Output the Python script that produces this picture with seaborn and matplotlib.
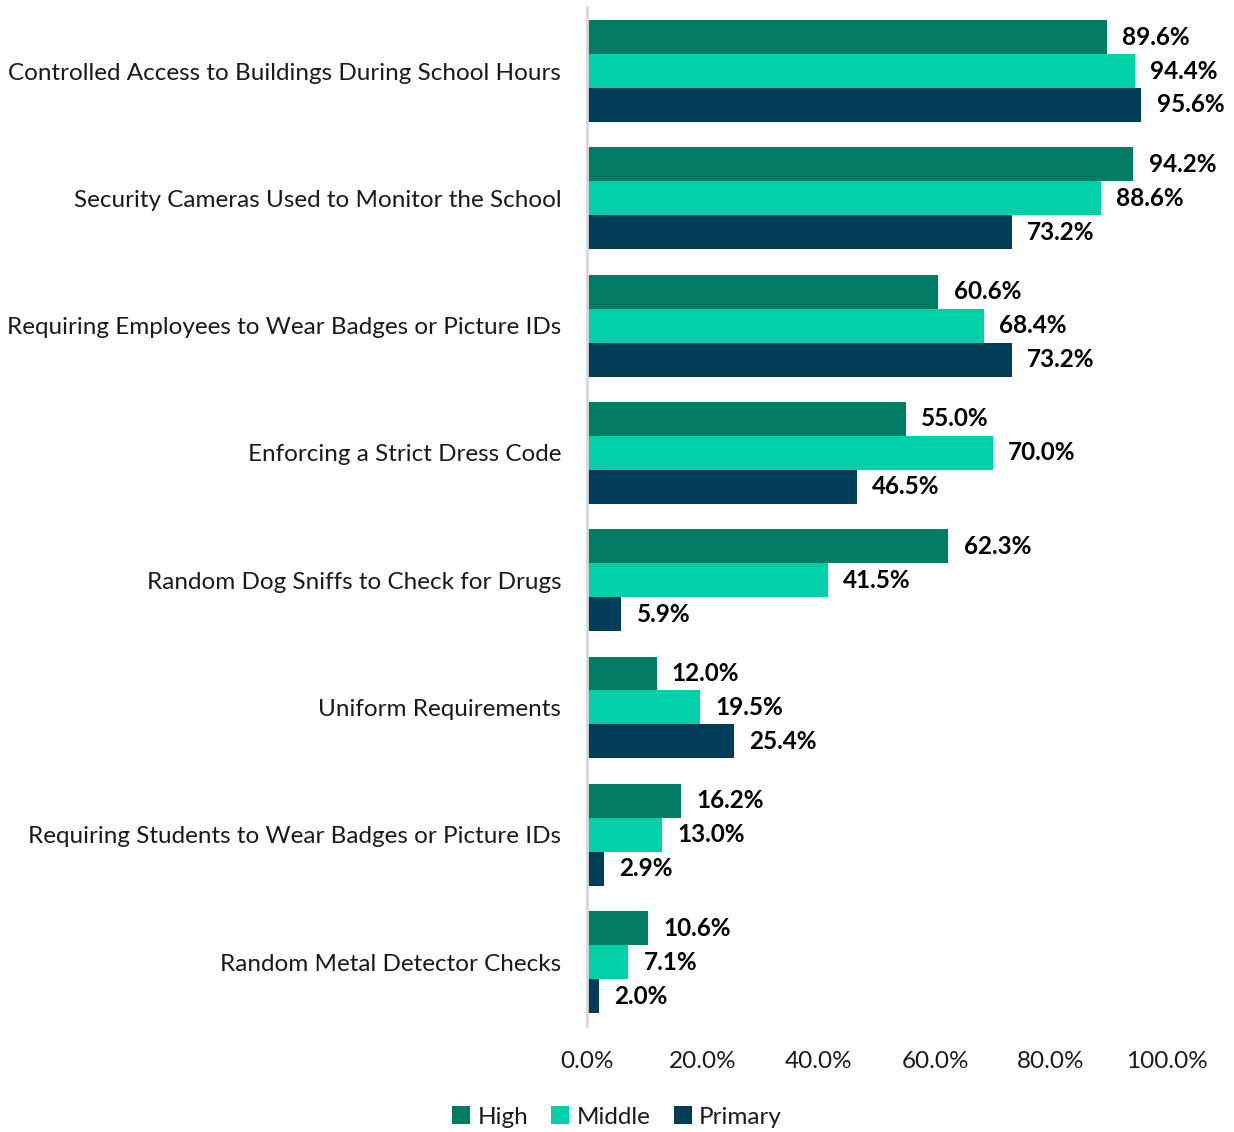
import pandas as pd
import matplotlib.pyplot as plt
import seaborn as sns

# data
measures = [
    'Controlled Access to Buildings During School Hours',
    'Security Cameras Used to Monitor the School',
    'Requiring Employees to Wear Badges or Picture IDs',
    'Enforcing a Strict Dress Code',
    'Random Dog Sniffs to Check for Drugs',
    'Uniform Requirements',
    'Requiring Students to Wear Badges or Picture IDs',
    'Random Metal Detector Checks',
]
levels = ['High', 'Middle', 'Primary']
high = [89.6, 94.2, 60.6, 55.0, 62.3, 12.0, 16.2, 10.6]
middle = [94.4, 88.6, 68.4, 70.0, 41.5, 19.5, 13.0, 7.1]
primary = [95.6, 73.2, 73.2, 46.5, 5.9, 25.4, 2.9, 2.0]
x_ticks = [0, 20, 40, 60, 80, 100]

colors = {'High': '#027C64', 'Middle': '#00D0A8', 'Primary': '#003D58'}

df = pd.DataFrame({'Measure': measures, 'High': high, 'Middle': middle, 'Primary': primary})
long_df = df.melt(id_vars='Measure', value_vars=levels, var_name='Level', value_name='Pct')

sns.set_style('white')
plt.rcParams['font.family'] = ['Lato', 'DejaVu Sans']
plt.rcParams['text.color'] = '#1a1a1a'

fig = plt.figure(figsize=(12.34, 11.32), dpi=100)
ax = fig.add_axes([0.4757, 0.0939, 0.47, 0.8996])

sns.barplot(data=long_df, y='Measure', x='Pct', hue='Level', order=measures,
            hue_order=levels, palette=colors, orient='h', width=0.8,
            saturation=1, linewidth=0, ax=ax, legend=True)

# value labels next to each bar
for cont in ax.containers:
    ax.bar_label(cont, labels=[f'{v:.1f}%' for v in cont.datavalues],
                 padding=11, fontsize=17.5, fontweight='bold', color='black')

ax.set_xlim(0, 100)
ax.set_ylim(len(measures) - 0.5, -0.5)
ax.set_xticks(x_ticks)
ax.set_xticklabels([f'{t:.1f}%' for t in x_ticks], fontsize=17.5)
ax.tick_params(axis='y', labelsize=17.5, length=0, pad=18.5, labelcolor='#1a1a1a')
ax.tick_params(axis='x', length=0, pad=18, labelcolor='#1a1a1a')
ax.set_xlabel('')
ax.set_ylabel('')

for s in ['top', 'right', 'bottom']:
    ax.spines[s].set_visible(False)
ax.spines['left'].set_color('#D9D9D9')
ax.spines['left'].set_linewidth(2)

handles, labels = ax.get_legend_handles_labels()
ax.get_legend().remove()
fig.legend(handles, labels, loc='center', bbox_to_anchor=(0.5, 15 / 1132), ncol=3,
           frameon=False, fontsize=17.5, handlelength=0.75, handleheight=0.75,
           handletextpad=0.3, columnspacing=0.95)

fig.savefig('out.png', dpi=100)
